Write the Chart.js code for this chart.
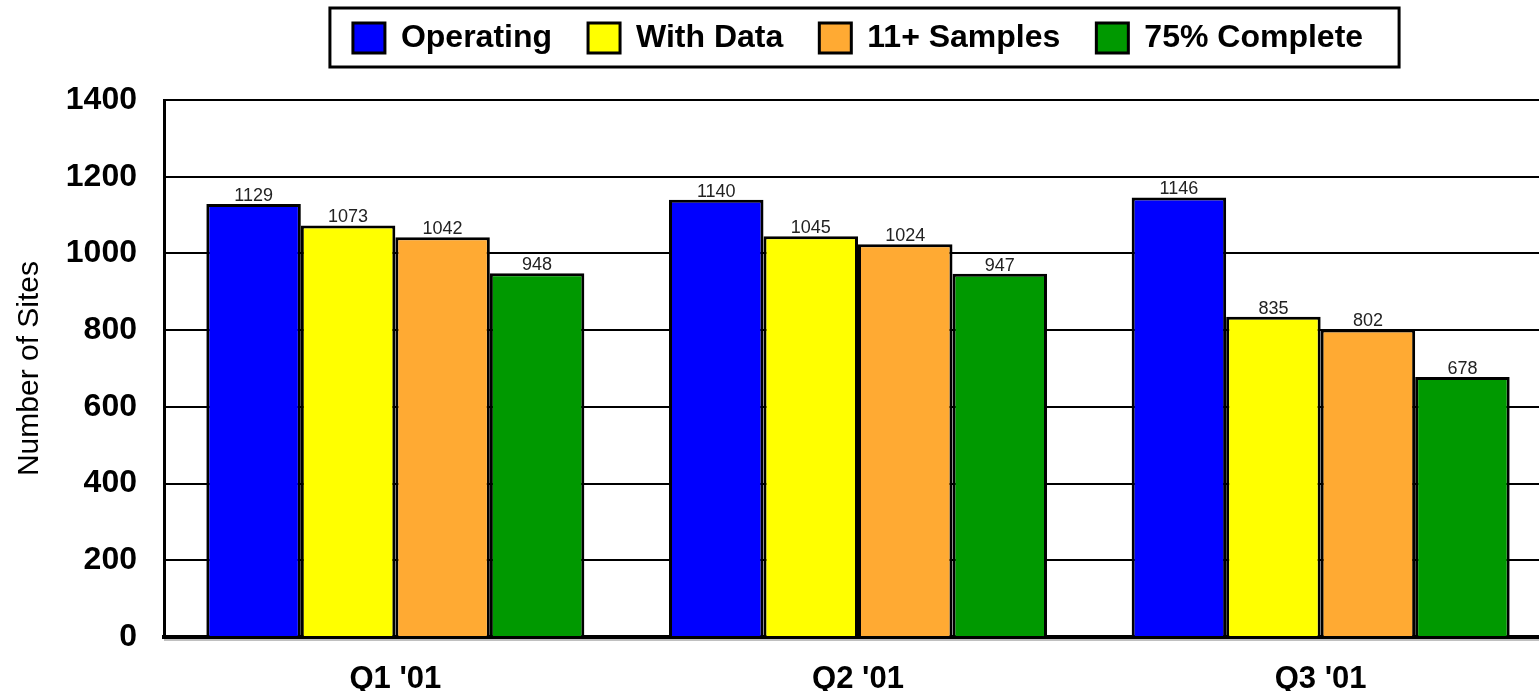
<!DOCTYPE html>
<html lang="en">
<head>
    <meta charset="UTF-8">
    <title>Number of Sites</title>
    <style>
        body {
            margin: 0;
            background-color: #ffffff;
            overflow: hidden;
        }

        .container {
            width: 1552px;
            height: 691px;
        }
    </style>
</head>
<body>
    <div class="container">
        <canvas id="myChart" width="1552" height="691"></canvas>
    </div>

    <script src="https://cdn.jsdelivr.net/npm/chart.js"></script>
    <script>
        var quarters = ["Q1 '01", "Q2 '01", "Q3 '01"];
        var seriesNames = ['Operating', 'With Data', '11+ Samples', '75% Complete'];
        var operating = [1129, 1140, 1146];
        var withData = [1073, 1045, 835];
        var samples11 = [1042, 1024, 802];
        var complete75 = [948, 947, 678];
        var yTicks = [0, 200, 400, 600, 800, 1000, 1200, 1400];

        var seriesColors = ['#0000FF', '#FFFF00', '#FFAA33', '#009900'];
        var fontFamily = '"Liberation Sans", Arial, Helvetica, sans-serif';

        // value labels above each bar
        var barLabels = {
            id: 'barLabels',
            afterDatasetsDraw: function (chart) {
                var ctx = chart.ctx;
                ctx.save();
                ctx.font = '18px ' + fontFamily;
                ctx.fillStyle = '#222222';
                ctx.textAlign = 'center';
                ctx.textBaseline = 'bottom';
                chart.data.datasets.forEach(function (ds, i) {
                    chart.getDatasetMeta(i).data.forEach(function (bar, j) {
                        ctx.fillText(ds.data[j], bar.x, bar.y + 1);
                    });
                });
                ctx.restore();
            }
        };

        // frame around the legend, fixed legend height, grey shadow under the axis
        var legendFrame = {
            id: 'legendFrame',
            afterInit: function (chart) {
                var lg = chart.legend;
                var fit = lg.fit.bind(lg);
                lg.fit = function () {
                    fit();
                    this.height = 114;
                };
            },
            afterDraw: function (chart) {
                var ctx = chart.ctx;
                var area = chart.chartArea;
                ctx.save();
                ctx.strokeStyle = '#c0c0c0';
                ctx.lineWidth = 2;
                ctx.beginPath();
                ctx.moveTo(area.left, area.bottom + 3);
                ctx.lineTo(area.right, area.bottom + 3);
                ctx.stroke();

                var boxes = chart.legend.legendHitBoxes;
                if (boxes && boxes.length) {
                    var first = boxes[0], last = boxes[boxes.length - 1];
                    var cy = first.top + first.height / 2;
                    ctx.strokeStyle = '#000000';
                    ctx.lineWidth = 3;
                    ctx.strokeRect(first.left - 23, cy - 30, last.left + last.width + 36 - (first.left - 23), 59);
                }
                ctx.restore();
            }
        };

        var datasets = [operating, withData, samples11, complete75].map(function (values, i) {
            return {
                label: seriesNames[i],
                data: values,
                backgroundColor: seriesColors[i],
                borderColor: '#000000',
                borderWidth: 3,
                borderSkipped: 'bottom',
                categoryPercentage: 0.817,
                barPercentage: 1.0
            };
        });

        var myChart = new Chart(document.getElementById('myChart'), {
            type: 'bar',
            data: {
                labels: quarters,
                datasets: datasets
            },
            options: {
                responsive: false,
                animation: false,
                layout: {
                    padding: { top: -14, left: 0, right: 0, bottom: 0 }
                },
                plugins: {
                    tooltip: { enabled: false },
                    legend: {
                        position: 'top',
                        fullSize: false,
                        labels: {
                            boxWidth: 32,
                            boxHeight: 30,
                            padding: 36,
                            color: '#000000',
                            font: { family: fontFamily, size: 32, weight: 'bold' }
                        }
                    }
                },
                scales: {
                    x: {
                        grid: { display: false, drawTicks: false },
                        border: { display: true, color: '#000000', width: 4 },
                        ticks: {
                            color: '#000000',
                            padding: 24,
                            font: { family: fontFamily, size: 31, weight: 'bold' }
                        },
                        afterFit: function (scale) { scale.height = 54; }
                    },
                    y: {
                        min: 0,
                        max: 1400,
                        afterBuildTicks: function (scale) {
                            scale.ticks = yTicks.map(function (v) { return { value: v }; });
                        },
                        grid: { color: '#000000', lineWidth: 2, drawTicks: false },
                        border: { display: true, color: '#000000', width: 3 },
                        ticks: {
                            color: '#000000',
                            padding: 27,
                            font: { family: fontFamily, size: 32, weight: 'bold' },
                            callback: function (value) { return String(value); }
                        },
                        title: {
                            display: true,
                            text: 'Number of Sites',
                            color: '#000000',
                            padding: { top: 12, bottom: 0 },
                            font: { family: fontFamily, size: 30, weight: 'normal' }
                        },
                        afterFit: function (scale) { scale.width = 164; }
                    }
                }
            },
            plugins: [barLabels, legendFrame]
        });
    </script>
</body>
</html>
